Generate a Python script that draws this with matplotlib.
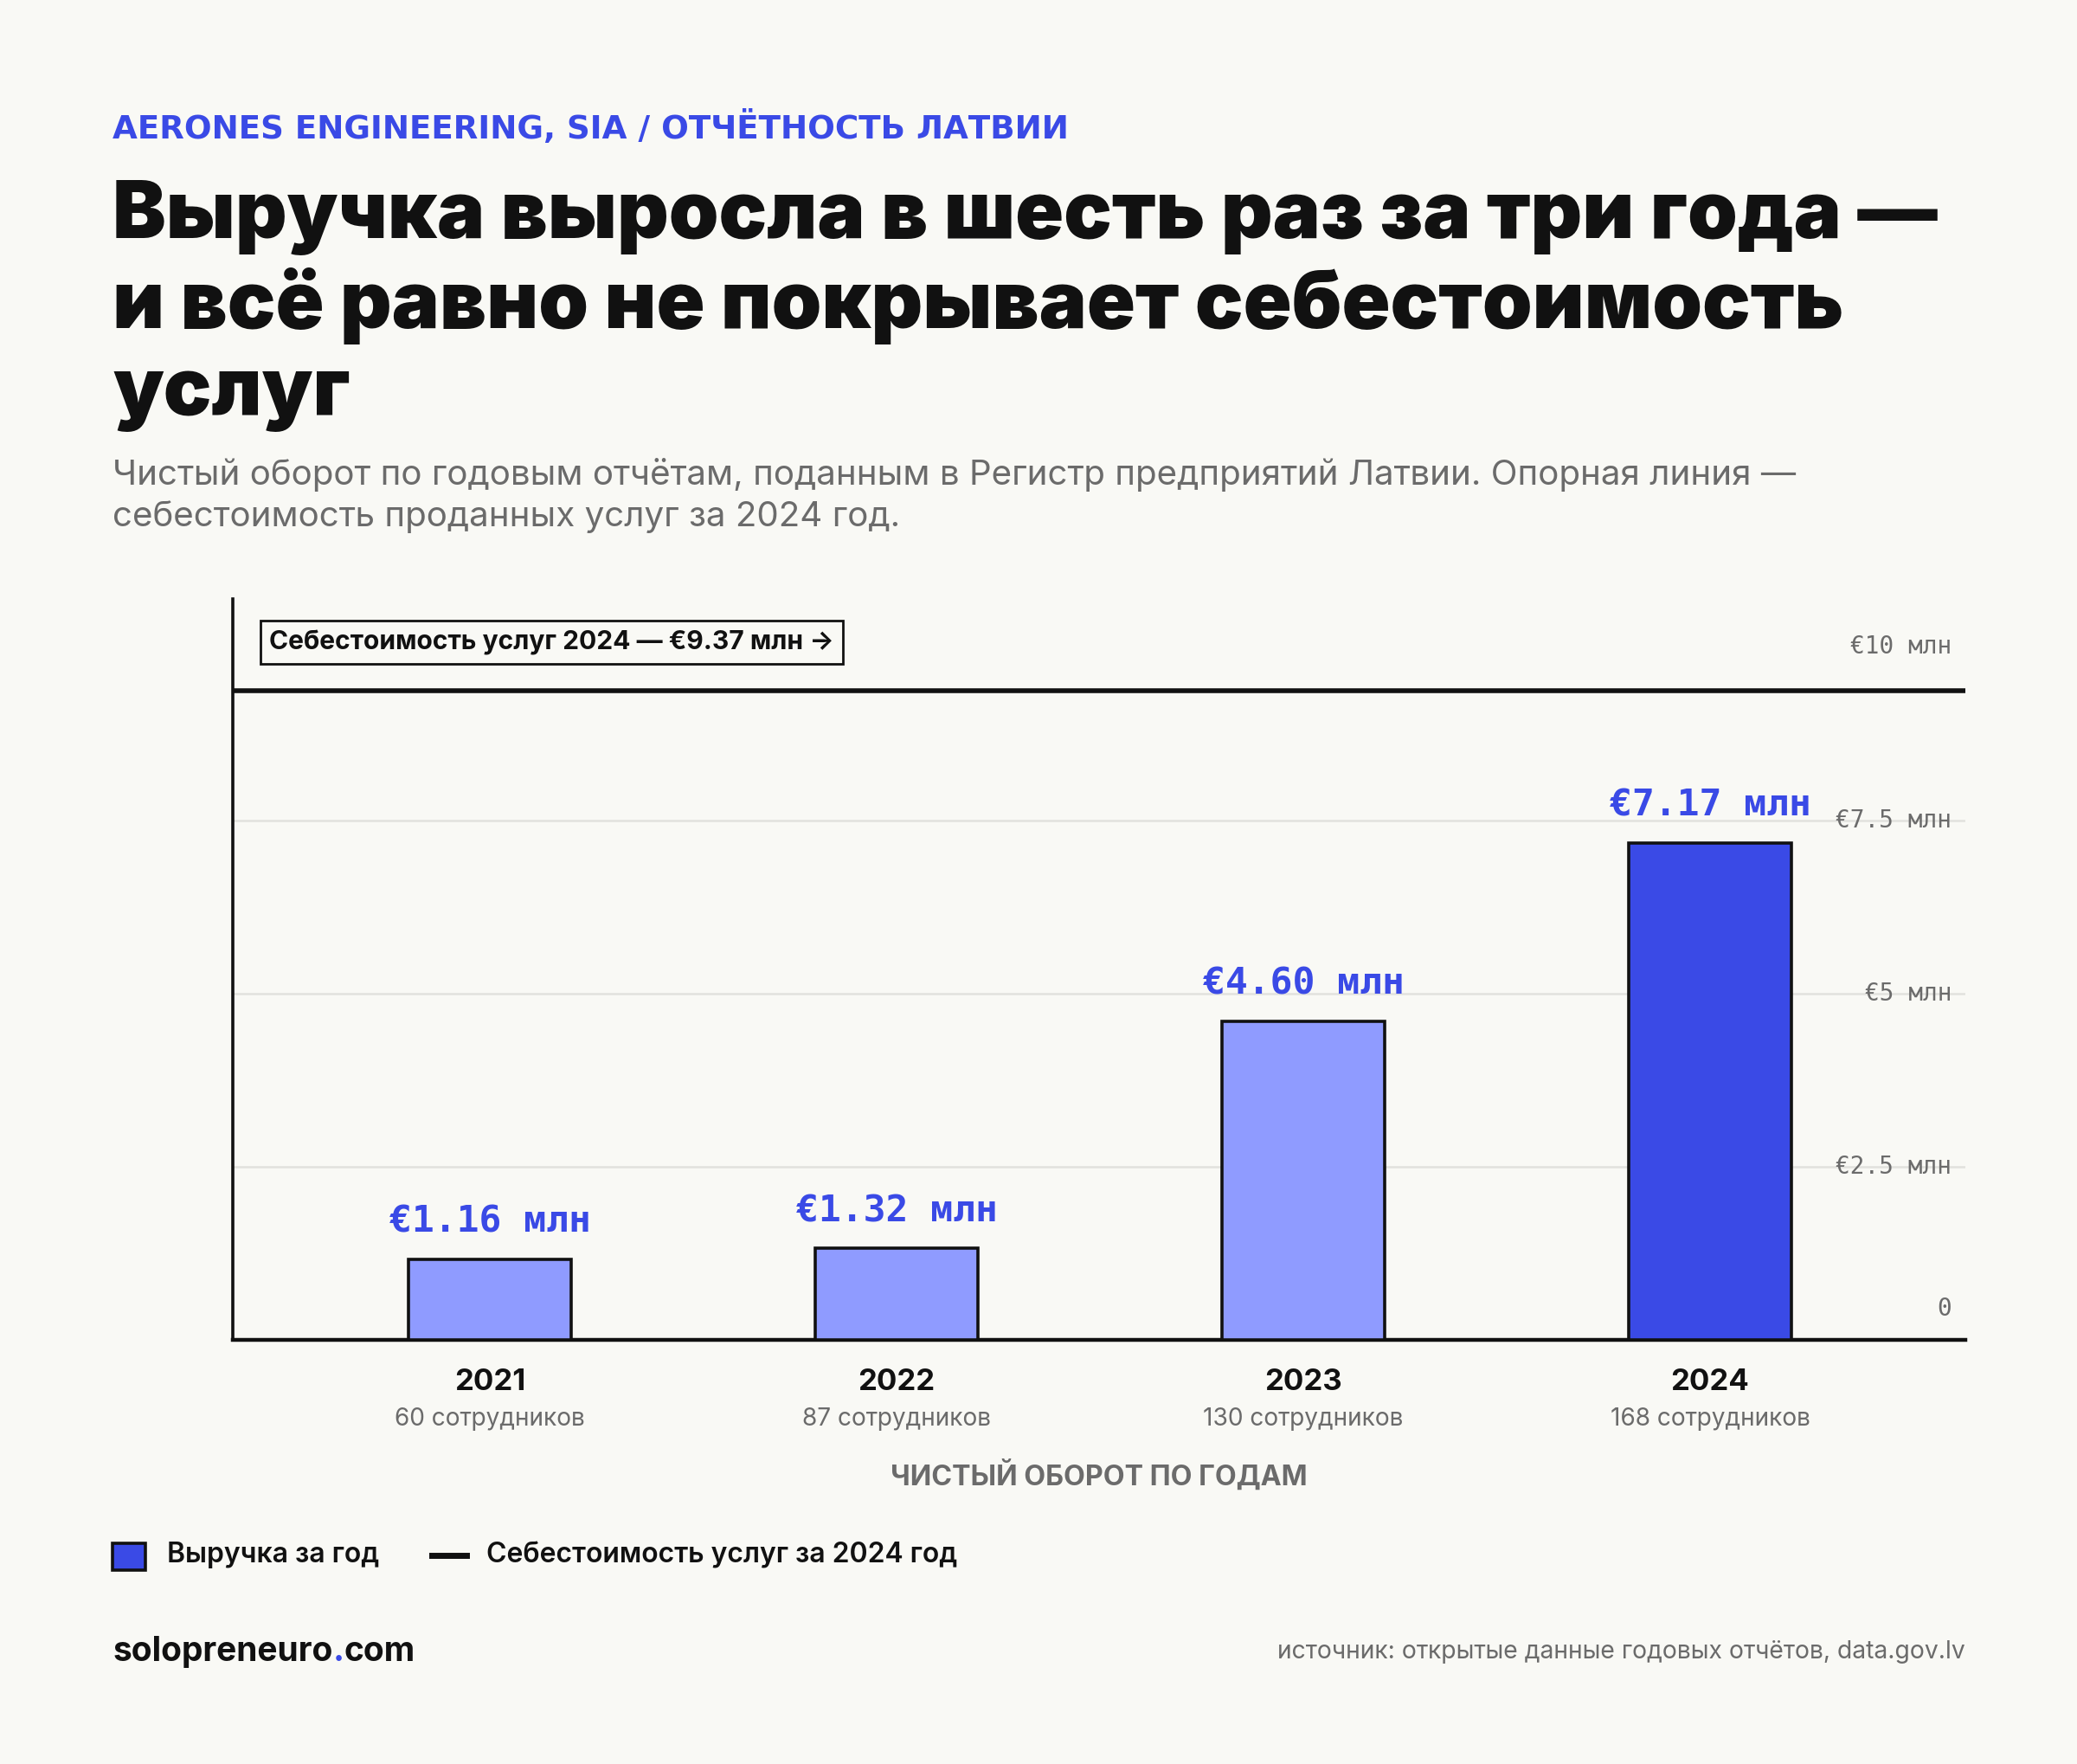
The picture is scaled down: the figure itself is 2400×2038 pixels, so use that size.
import numpy as np
import matplotlib.pyplot as plt
import matplotlib.transforms as mtransforms
from matplotlib.patches import Rectangle
from matplotlib.lines import Line2D

# данные
years = ['2021', '2022', '2023', '2024']
staff = ['60 сотрудников', '87 сотрудников', '130 сотрудников', '168 сотрудников']
revenue = [1.16, 1.32, 4.60, 7.17]
cost_2024 = 9.37
y_ticks = [0, 2.5, 5, 7.5, 10]
y_tick_labels = ['0', '€2.5 млн', '€5 млн', '€7.5 млн', '€10 млн']

BG = '#f9f9f5'
INK = '#111111'
BLUE = '#3a4ae6'
LIGHT = '#8f9bff'
GREY = '#6b6b6b'
GRID = '#e2e2de'
MONO = ['DejaVu Sans Mono']

plt.rcParams['font.family'] = ['Inter', 'DejaVu Sans']

fig = plt.figure(figsize=(12, 10.19), dpi=200, facecolor=BG)
ax = fig.add_axes([0.1121, 0.2404, 0.8342, 0.42])
ax.set_facecolor(BG)

x = np.arange(len(years))
colors = [LIGHT] * (len(years) - 1) + [BLUE]
ax.bar(x, revenue, width=0.4, color=colors, edgecolor=INK, linewidth=1.3, zorder=3)
ax.set_xlim(-0.632, 3.628)
ax.set_ylim(0, 10.69)

for t in y_ticks[1:4]:
    ax.axhline(t, color=GRID, lw=0.9, zorder=1)
ax.axhline(cost_2024, color=INK, lw=2.0, zorder=4)

# подписи оси y справа внутри
ytrans = mtransforms.blended_transform_factory(ax.transAxes, ax.transData)
for t, lab in zip(y_ticks, y_tick_labels):
    tr = ytrans
    if t == 0:
        tr = mtransforms.offset_copy(ytrans, fig, y=13, units='points')
    ax.text(0.992, t, lab, transform=tr, ha='right', va='center',
            family=MONO, fontsize=10, color=GREY, zorder=2)

# значения над столбцами
for xi, v in zip(x, revenue):
    ax.annotate(f'€{v:.2f} млн', (xi, v), xytext=(0, 8), textcoords='offset points',
                ha='center', va='bottom', family=MONO, fontweight='bold',
                fontsize=15.5, color=BLUE, zorder=5)

# подпись опорной линии
box_tr = mtransforms.offset_copy(ytrans, fig, y=20, units='points')
ax.text(0.021, cost_2024, 'Себестоимость услуг 2024 — €9.37 млн →', transform=box_tr,
        ha='left', va='center', fontsize=10.8, fontweight='bold', color=INK, zorder=6,
        bbox=dict(boxstyle='square,pad=0.35', fc=BG, ec=INK, lw=1.0))

ax.set_xticks(x, years)
ax.tick_params(axis='x', length=0, pad=12, labelsize=12.5, labelcolor=INK)
for lab in ax.get_xticklabels():
    lab.set_fontweight('bold')
ax.set_yticks([])
for s in ['top', 'right']:
    ax.spines[s].set_visible(False)
ax.spines['left'].set_linewidth(1.3)
ax.spines['bottom'].set_linewidth(1.6)
ax.spines['left'].set_color(INK)
ax.spines['bottom'].set_color(INK)

xtrans = mtransforms.blended_transform_factory(ax.transData, ax.transAxes)
for xi, s in zip(x, staff):
    ax.text(xi, -0.1063, s, transform=xtrans, ha='center', va='center',
            fontsize=10.1, color=GREY)
ax.text(0.5, -0.1834, 'ЧИСТЫЙ ОБОРОТ ПО ГОДАМ', transform=ax.transAxes, ha='center',
        va='center', fontsize=11.6, fontweight='bold', color=GREY)

# заголовки
fig.text(0.0542, 0.9274, 'AERONES ENGINEERING, SIA / ОТЧЁТНОСТЬ ЛАТВИИ', fontsize=13.4,
         fontweight='bold', color=BLUE, va='center', family=['DejaVu Sans'])
title_lines = ['Выручка выросла в шесть раз за три года —',
               'и всё равно не покрывает себестоимость',
               'услуг']
for i, line in enumerate(title_lines):
    fig.text(0.0542, 0.8768 - i * 0.0502, line, fontsize=33.3, fontweight='black',
             color=INK, va='center')
sub_lines = ['Чистый оборот по годовым отчётам, поданным в Регистр предприятий Латвии. Опорная линия —',
             'себестоимость проданных услуг за 2024 год.']
for i, line in enumerate(sub_lines):
    fig.text(0.0542, 0.7311 - i * 0.024, line, fontsize=14.5, color=GREY, va='center')

# легенда
fig.add_artist(Rectangle((0.0542, 0.1099), 0.0158, 0.0152, transform=fig.transFigure,
                         fc=BLUE, ec=INK, lw=1.3))
fig.text(0.0804, 0.1183, 'Выручка за год', fontsize=11.5, fontweight='semibold',
         color=INK, va='center')
fig.add_artist(Line2D([0.2079, 0.2246], [0.1183, 0.1183], transform=fig.transFigure,
                      color=INK, lw=2.5))
fig.text(0.2342, 0.1183, 'Себестоимость услуг за 2024 год', fontsize=11.5,
         fontweight='semibold', color=INK, va='center')

# подвал
t1 = fig.text(0.0542, 0.0633, 'solopreneuro', fontsize=14, fontweight='bold',
              color=INK, va='center')
t2 = ax.annotate('.', xy=(1, 0), xycoords=t1, ha='left', va='bottom', fontsize=14,
                 fontweight='bold', color=BLUE, annotation_clip=False)
ax.annotate('com', xy=(1, 0), xycoords=t2, ha='left', va='bottom', fontsize=14,
            fontweight='bold', color=INK, annotation_clip=False)
fig.text(0.9463, 0.0633, 'источник: открытые данные годовых отчётов, data.gov.lv',
         fontsize=10.2, color=GREY, ha='right', va='center')

fig.savefig('out.png', dpi=200, facecolor=BG)
